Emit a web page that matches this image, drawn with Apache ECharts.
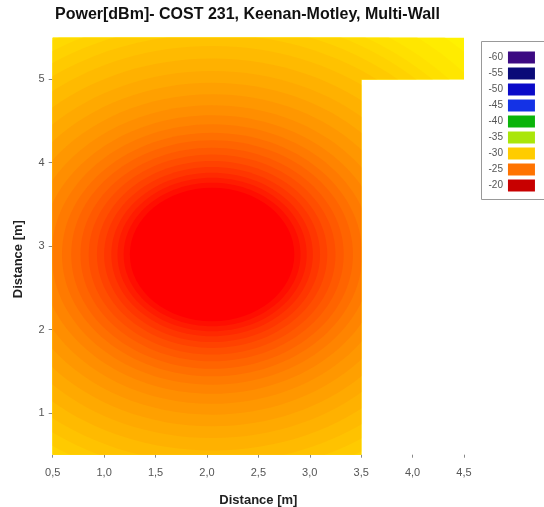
<!DOCTYPE html>
<html>
<head>
<meta charset="utf-8">
<script src="https://cdn.jsdelivr.net/npm/echarts@6/dist/echarts.min.js"></script>
<style>
  html, body { margin: 0; padding: 0; background: #fff; }
  #chart { width: 544px; height: 507px; }
</style>
</head>
<body>
<div id="chart"></div>
<script>
// room outline (L-shaped floor) in metres
const roomX = [0.5, 3.5, 3.5, 4.5, 4.5, 0.5];
const roomY = [0.5, 0.5, 5.0, 5.0, 5.5, 5.5];

// centre of the power field (transmitter) in metres
const txX = 2.05;
const txY = 2.9;

// contour levels [dBm] and the radius [m] at which each one lies
const contourLevels = [-33, -32, -31.5, -31, -30.5, -30, -29.5, -29, -28.5, -28, -27.5, -27, -26.5,
  -26, -25.5, -25, -24.5, -24, -23.5, -23, -22.5, -22, -21.5, -21, -20.5, -20];
const contourRadii = [4.00, 3.45, 3.28, 3.12, 3.00, 2.89, 2.77, 2.64, 2.50, 2.35, 2.20, 2.06, 1.92,
  1.79, 1.67, 1.56, 1.46, 1.37, 1.28, 1.20, 1.12, 1.05, 0.98, 0.92, 0.86, 0.80];

const xTicks = [0.5, 1.0, 1.5, 2.0, 2.5, 3.0, 3.5, 4.0, 4.5];
const yTicks = [1, 2, 3, 4, 5];

// legend levels
const levels = [-60, -55, -50, -45, -40, -35, -30, -25, -20];
const levelColors = ['#3c0a82', '#0a0a78', '#0a0ac8', '#1432e6', '#0ab40a', '#aae60a', '#ffcc00', '#ff7300', '#c80000'];

// colour ramp of the field, one entry per dB from -33 to -20
const rampColors = ['#fff200', '#ffec00', '#ffe000', '#ffd200', '#ffc200', '#ffb100', '#ffa000',
  '#ff8e00', '#ff7a00', '#ff6400', '#ff4e00', '#ff3600', '#ff1c00', '#ff0000'];

const rings = contourLevels.map((lv, i) => [contourRadii[i], lv]);

const chart = echarts.init(document.getElementById('chart'));
const FONT = '"Liberation Sans", Arial, sans-serif';

const option = {
  animation: false,
  title: {
    text: 'Power[dBm]- COST 231, Keenan-Motley, Multi-Wall',
    left: 55,
    top: 7,
    padding: 0,
    textStyle: { fontFamily: FONT, fontSize: 16, fontWeight: 'bold', color: '#111' }
  },
  grid: { left: 52.7, right: 80, top: 37.6, bottom: 52.3, containLabel: false, outerBoundsMode: 'none' },
  xAxis: {
    type: 'value',
    min: 0.5,
    max: 4.5,
    interval: 0.5,
    name: 'Distance [m]',
    nameLocation: 'middle',
    nameGap: 39,
    nameTextStyle: { fontFamily: FONT, fontSize: 13, fontWeight: 'bold', color: '#222' },
    axisLine: { show: false },
    axisTick: { show: true, length: 3, lineStyle: { color: '#888' }, customValues: xTicks },
    axisLabel: {
      customValues: xTicks,
      margin: 13,
      fontFamily: FONT,
      fontSize: 11,
      color: '#555',
      formatter: v => v.toFixed(1).replace('.', ',')
    },
    splitLine: { show: false }
  },
  yAxis: {
    type: 'value',
    min: 0.5,
    max: 5.5,
    name: 'Distance [m]',
    nameLocation: 'middle',
    nameGap: 28,
    nameRotate: 90,
    nameTextStyle: { fontFamily: FONT, fontSize: 13, fontWeight: 'bold', color: '#222', padding: [0, 26, 0, 0] },
    axisLine: { show: false },
    axisTick: { show: true, length: 4, lineStyle: { color: '#888' }, customValues: yTicks },
    axisLabel: {
      customValues: yTicks,
      margin: 8,
      fontFamily: FONT,
      fontSize: 11,
      color: '#555'
    },
    splitLine: { show: false }
  },
  visualMap: [
    {
      type: 'continuous',
      show: false,
      seriesIndex: 0,
      dimension: 1,
      min: -33,
      max: -20,
      inRange: { color: rampColors }
    },
    {
      type: 'piecewise',
      seriesIndex: [],
      orient: 'vertical',
      inverse: true,
      left: 481,
      top: 41,
      padding: [10, 10, 8, 7],
      borderColor: '#999',
      borderWidth: 1,
      itemWidth: 27,
      itemHeight: 12,
      itemGap: 4,
      itemSymbol: 'rect',
      selectedMode: false,
      textGap: 5,
      textStyle: { fontFamily: FONT, fontSize: 10, color: '#555' },
      pieces: levels.map((lv, i) => ({ value: lv, label: String(lv), color: levelColors[i] }))
    }
  ],
  series: [
    {
      type: 'custom',
      coordinateSystem: 'cartesian2d',
      data: rings,
      encode: { x: -1, y: -1 },
      clip: true,
      renderItem: (params, api) => {
        const r = api.value(0);
        const c = api.coord([txX, txY]);
        const s = api.size([r, r]);
        const color = api.visual('color');
        const outline = roomX.map((x, i) => api.coord([x, roomY[i]]));
        return {
          type: 'ellipse',
          shape: { cx: c[0], cy: c[1], rx: s[0], ry: s[1] },
          style: { fill: color },
          clipPath: { type: 'polygon', shape: { points: outline } }
        };
      }
    }
  ]
};

chart.setOption(option);
</script>
</body>
</html>
